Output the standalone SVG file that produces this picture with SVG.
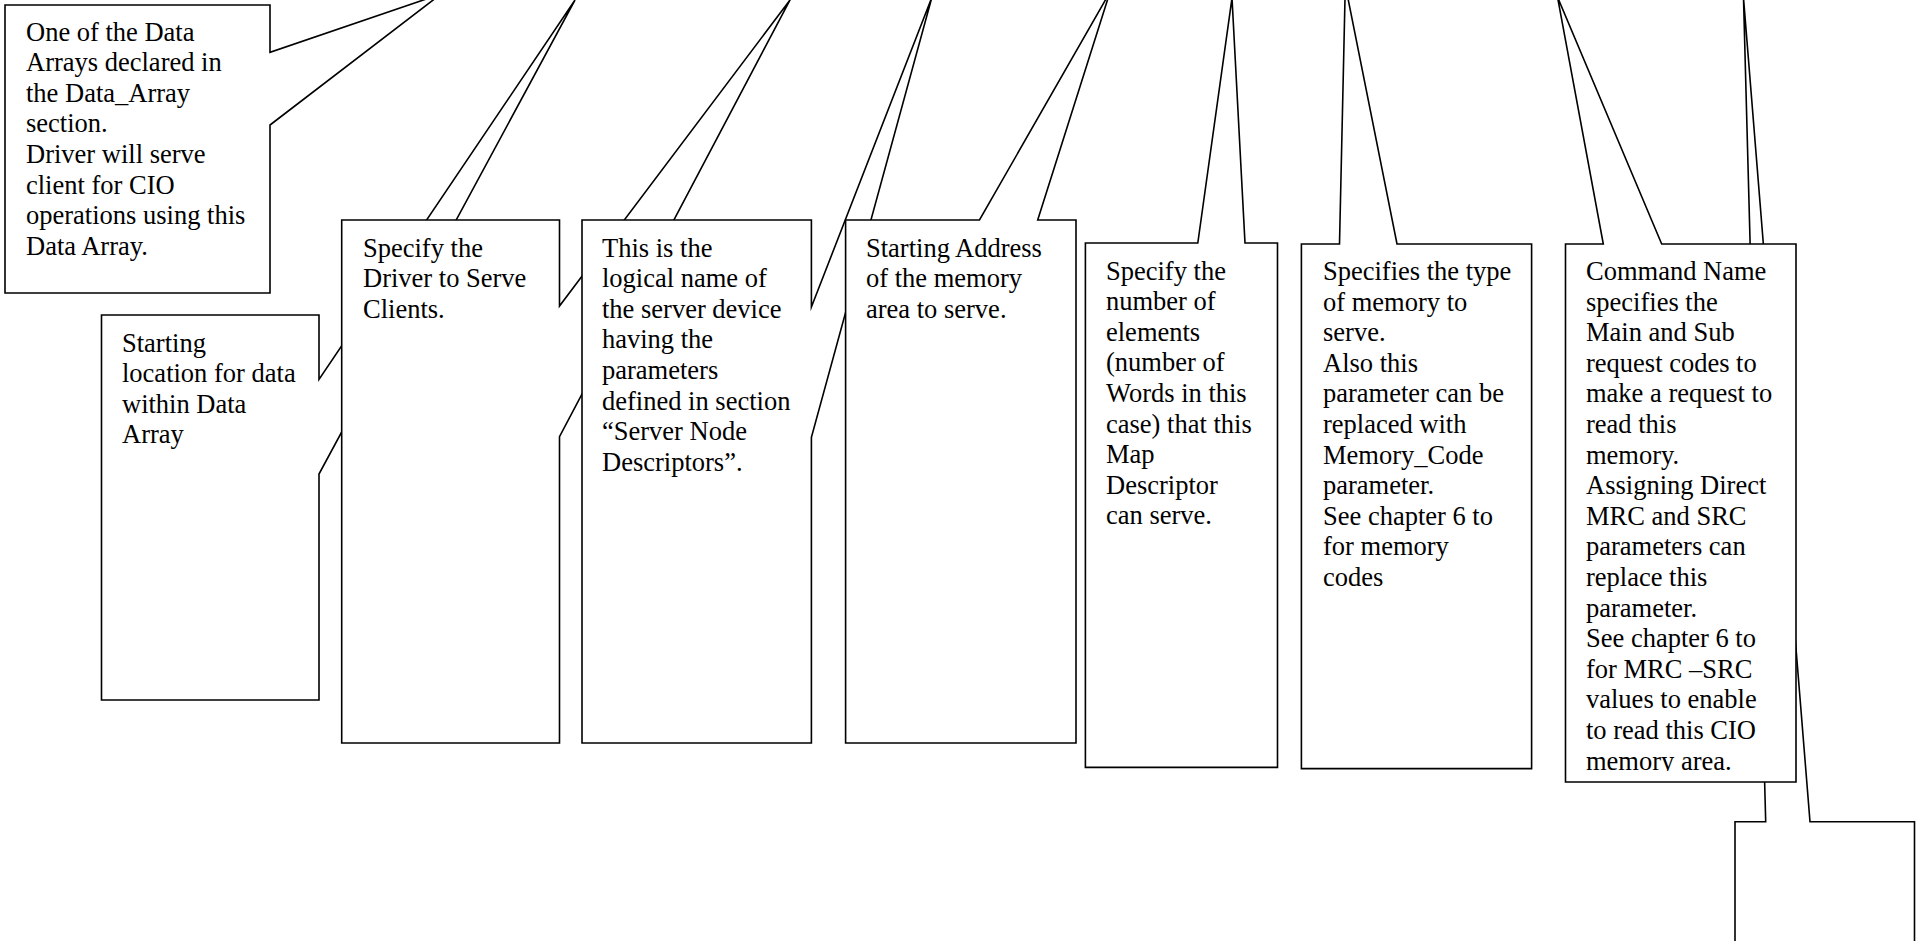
<svg xmlns="http://www.w3.org/2000/svg" width="1916" height="941" viewBox="0 0 1916 941">
<style>
.c{fill:#fff;stroke:#000;stroke-width:1.6;stroke-linejoin:miter;stroke-miterlimit:20}
.t{font-family:"Liberation Serif","Times New Roman",serif;font-size:26.5px;fill:#000}
</style>
<defs>
<clipPath id="clip8"><rect x="1566" y="244" width="230" height="527"/></clipPath>
</defs>
<rect width="1916" height="941" fill="#fff"/>
<g id="connectors"/>
<g id="n1">
<path class="c" d="M5,5 H270 V52.3 L441,-6 L270,125 V293 H5 Z"/>
<text class="t"><tspan x="26" y="40.5">One of the Data</tspan><tspan x="26" dy="30.6">Arrays declared in</tspan><tspan x="26" dy="30.6">the Data_Array</tspan><tspan x="26" dy="30.6">section.</tspan><tspan x="26" dy="30.6">Driver will serve</tspan><tspan x="26" dy="30.6">client for CIO</tspan><tspan x="26" dy="30.6">operations using this</tspan><tspan x="26" dy="30.6">Data Array.</tspan></text>
</g>
<g id="n2">
<path class="c" d="M101.5,315 H319 V379.5 L575,0 L319,474 V700 H101.5 Z"/>
<text class="t"><tspan x="122" y="351.5">Starting</tspan><tspan x="122" dy="30.6">location for data</tspan><tspan x="122" dy="30.6">within Data</tspan><tspan x="122" dy="30.6">Array</tspan></text>
</g>
<g id="n3">
<path class="c" d="M341.7,220 H559.5 V306 L790,0 L559.5,436.7 V743 H341.7 Z"/>
<text class="t"><tspan x="363" y="256.5">Specify the</tspan><tspan x="363" dy="30.6">Driver to Serve</tspan><tspan x="363" dy="30.6">Clients.</tspan></text>
</g>
<g id="n4">
<path class="c" d="M582,220 H811.4 V307 L932,-3 L811.4,437.4 V743 H582 Z"/>
<text class="t"><tspan x="602" y="256.5">This is the</tspan><tspan x="602" dy="30.6">logical name of</tspan><tspan x="602" dy="30.6">the server device</tspan><tspan x="602" dy="30.6">having the</tspan><tspan x="602" dy="30.6">parameters</tspan><tspan x="602" dy="30.6">defined in section</tspan><tspan x="602" dy="30.6">“Server Node</tspan><tspan x="602" dy="30.6">Descriptors”.</tspan></text>
</g>
<g id="n5">
<path class="c" d="M845.6,220 H979.5 L1110,-8 L1037.7,220 H1076 V743 H845.6 Z"/>
<text class="t"><tspan x="866" y="256.5">Starting Address</tspan><tspan x="866" dy="30.6">of the memory</tspan><tspan x="866" dy="30.6">area to serve.</tspan></text>
</g>
<g id="n6">
<path class="c" d="M1085.4,243 H1197.8 L1232,-2 L1245,243 H1277.5 V767.4 H1085.4 Z"/>
<text class="t"><tspan x="1106" y="279.5">Specify the</tspan><tspan x="1106" dy="30.6">number of</tspan><tspan x="1106" dy="30.6">elements</tspan><tspan x="1106" dy="30.6">(number of</tspan><tspan x="1106" dy="30.6">Words in this</tspan><tspan x="1106" dy="30.6">case) that this</tspan><tspan x="1106" dy="30.6">Map</tspan><tspan x="1106" dy="30.6">Descriptor</tspan><tspan x="1106" dy="30.6">can serve.</tspan></text>
</g>
<g id="n7">
<path class="c" d="M1301.4,244 H1339.5 L1345.3,-15 L1397,244 H1531.6 V768.6 H1301.4 Z"/>
<text class="t"><tspan x="1323" y="280">Specifies the type</tspan><tspan x="1323" dy="30.6">of memory to</tspan><tspan x="1323" dy="30.6">serve.</tspan><tspan x="1323" dy="30.6">Also this</tspan><tspan x="1323" dy="30.6">parameter can be</tspan><tspan x="1323" dy="30.6">replaced with</tspan><tspan x="1323" dy="30.6">Memory_Code</tspan><tspan x="1323" dy="30.6">parameter.</tspan><tspan x="1323" dy="30.6">See chapter 6 to</tspan><tspan x="1323" dy="30.6">for memory</tspan><tspan x="1323" dy="30.6">codes</tspan></text>
</g>
<g id="n9">
<path class="c" d="M1735,821.7 H1765.7 L1743.5,-2 L1810,821.7 H1914.5 V960 H1735 Z"/>
</g>
<g id="n8">
<path class="c" d="M1565.5,244 H1603.3 L1557.5,-3 L1661.7,244 H1796 V782 H1565.5 Z"/>
<text class="t" clip-path="url(#clip8)"><tspan x="1586" y="280">Command Name</tspan><tspan x="1586" dy="30.6">specifies the</tspan><tspan x="1586" dy="30.6">Main and Sub</tspan><tspan x="1586" dy="30.6">request codes to</tspan><tspan x="1586" dy="30.6">make a request to</tspan><tspan x="1586" dy="30.6">read this</tspan><tspan x="1586" dy="30.6">memory.</tspan><tspan x="1586" dy="30.6">Assigning Direct</tspan><tspan x="1586" dy="30.6">MRC and SRC</tspan><tspan x="1586" dy="30.6">parameters can</tspan><tspan x="1586" dy="30.6">replace this</tspan><tspan x="1586" dy="30.6">parameter.</tspan><tspan x="1586" dy="30.6">See chapter 6 to</tspan><tspan x="1586" dy="30.6">for MRC –SRC</tspan><tspan x="1586" dy="30.6">values to enable</tspan><tspan x="1586" dy="30.6">to read this CIO</tspan><tspan x="1586" dy="30.6">memory area.</tspan></text>
</g>
</svg>
